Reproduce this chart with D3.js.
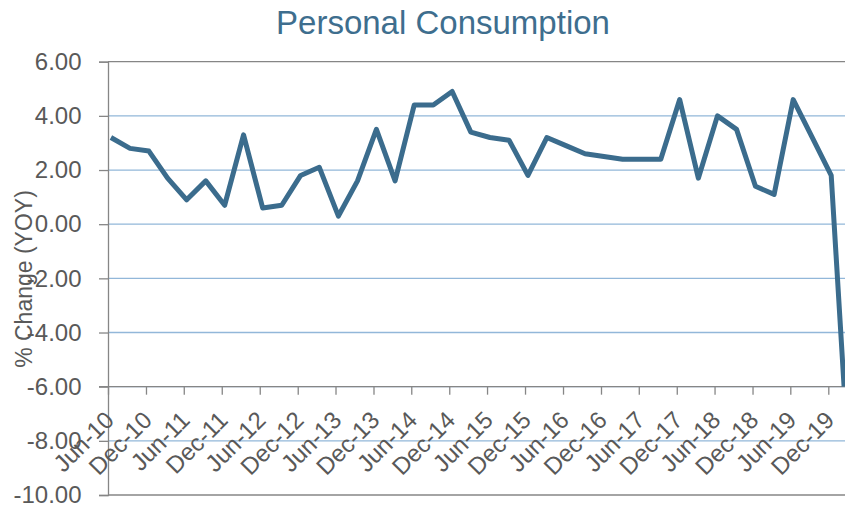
<!DOCTYPE html>
<head>
    <meta charset="utf-8" />
    <script src="https://d3js.org/d3.v7.min.js"></script>
    <style>
        body {
            margin: 0;
            background: #fff;
        }
        #chart text {
            font-family: "Liberation Sans", Arial, sans-serif;
        }
    </style>
</head>
<body>
<div id="chart"></div>
<script>
    // quarters (label = month of the observation) and % change YoY
    const quarters = [
        "Jun-10", "Sep-10", "Dec-10", "Mar-11", "Jun-11", "Sep-11", "Dec-11", "Mar-12",
        "Jun-12", "Sep-12", "Dec-12", "Mar-13", "Jun-13", "Sep-13", "Dec-13", "Mar-14",
        "Jun-14", "Sep-14", "Dec-14", "Mar-15", "Jun-15", "Sep-15", "Dec-15", "Mar-16",
        "Jun-16", "Sep-16", "Dec-16", "Mar-17", "Jun-17", "Sep-17", "Dec-17", "Mar-18",
        "Jun-18", "Sep-18", "Dec-18", "Mar-19", "Jun-19", "Sep-19", "Dec-19", "Feb-20"
    ];
    const consumption = [
        3.2, 2.8, 2.7, 1.7, 0.9, 1.6, 0.7, 3.3,
        0.6, 0.7, 1.8, 2.1, 0.3, 1.6, 3.5, 1.6,
        4.4, 4.4, 4.9, 3.4, 3.2, 3.1, 1.8, 3.2,
        2.9, 2.6, 2.5, 2.4, 2.4, 2.4, 4.6, 1.7,
        4.0, 3.5, 1.4, 1.1, 4.6, 3.2, 1.8, -6.0
    ];
    const tickLabels = [
        "Jun-10", "Dec-10", "Jun-11", "Dec-11", "Jun-12", "Dec-12", "Jun-13", "Dec-13",
        "Jun-14", "Dec-14", "Jun-15", "Dec-15", "Jun-16", "Dec-16", "Jun-17", "Dec-17",
        "Jun-18", "Dec-18", "Jun-19", "Dec-19"
    ];
    const yTicks = [6, 4, 2, 0, -2, -4, -6, -8, -10];

    const width = 845, height = 506;
    const plotLeft = 108, plotTop = 61.7, plotBottom = 495;
    const gray = "#868686", textGray = "#595959", blue = "#3b6c8d";

    const parse = d3.timeParse("%b-%y");
    const fmt = d3.timeFormat("%b-%y");

    const data = quarters.map(function(q, i) {
        // observations sit mid-month, ticks on the 1st
        return { date: d3.timeDay.offset(parse(q), 14), value: consumption[i] };
    });
    const tickDates = tickLabels.map(parse);

    const svg = d3.select("#chart")
        .append("svg")
        .attr("width", width)
        .attr("height", height);

    const x = d3.scaleTime()
        .domain([tickDates[0], tickDates[tickDates.length - 1]])
        .range([plotLeft, 828.3]);

    const y = d3.scaleLinear()
        .domain([-10, 6])
        .range([plotBottom, plotTop]);

    // title
    svg.append("text")
        .attr("x", 443)
        .attr("y", 34)
        .attr("text-anchor", "middle")
        .style("font-size", "33px")
        .style("fill", "#3e6e8e")
        .text("Personal Consumption");

    // gridlines
    svg.append("g")
        .selectAll("line")
        .data(yTicks)
        .enter()
        .append("line")
        .attr("x1", plotLeft)
        .attr("x2", width)
        .attr("y1", function(d) { return y(d); })
        .attr("y2", function(d) { return y(d); })
        .attr("stroke", function(d) { return d === 6 || d === -10 ? gray : "#92b7d9"; })
        .attr("stroke-width", 1.3);

    // y axis
    const yAxis = svg.append("g")
        .attr("transform", "translate(" + plotLeft + ",0)")
        .call(d3.axisLeft(y).tickValues(yTicks).tickSize(9).tickPadding(17.5));
    yAxis.select(".domain").attr("stroke", gray).attr("stroke-width", 1.3);
    yAxis.selectAll(".tick line").attr("stroke", gray).attr("stroke-width", 1.3);
    yAxis.selectAll(".tick text")
        .style("font-size", "24px")
        .style("fill", textGray)
        .text(function(d) { return d.toFixed(2); });

    // y axis title
    svg.append("text")
        .attr("transform", "translate(32,279) rotate(-90)")
        .attr("text-anchor", "middle")
        .style("font-size", "23px")
        .style("fill", textGray)
        .text("% Change (YOY)");

    // category axis crossing at -6
    const xAxis = svg.append("g")
        .attr("transform", "translate(0," + y(-6) + ")")
        .call(d3.axisBottom(x).tickValues(tickDates).tickSize(8).tickFormat(fmt));
    xAxis.select(".domain").remove();
    xAxis.append("line")
        .attr("x1", plotLeft - 9)
        .attr("x2", width)
        .attr("stroke", gray)
        .attr("stroke-width", 1.3);
    xAxis.selectAll(".tick line").attr("stroke", gray).attr("stroke-width", 1.3);
    xAxis.selectAll(".tick text")
        .attr("x", 0)
        .attr("y", 0)
        .attr("dy", 0)
        .attr("text-anchor", "end")
        .attr("transform", "translate(7,35) rotate(-45)")
        .style("font-size", "24px")
        .style("fill", textGray);

    // series
    const line = d3.line()
        .x(function(d) { return x(d.date); })
        .y(function(d) { return y(d.value); });

    svg.append("path")
        .datum(data)
        .attr("d", line)
        .attr("fill", "none")
        .attr("stroke", blue)
        .attr("stroke-width", 5)
        .attr("stroke-linejoin", "round");
</script>
</body>
